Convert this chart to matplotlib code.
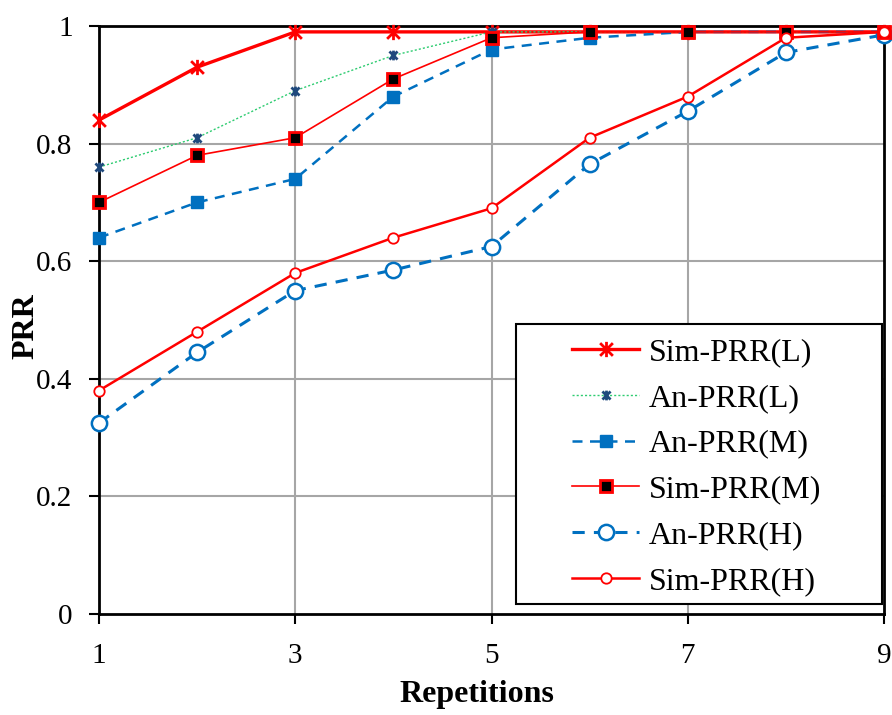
import numpy as np
from matplotlib import pyplot as plt
from matplotlib.path import Path
from matplotlib.patches import Rectangle

plt.rcParams['font.family'] = ['Liberation Serif', 'DejaVu Serif']

reps = [1, 2, 3, 4, 5, 6, 7, 8, 9]

sim_l = [0.84, 0.93, 0.99, 0.99, 0.99, 0.99, 0.99, 0.99, 0.99]
an_l = [0.76, 0.81, 0.89, 0.95, 0.99, 0.99, 0.99, 0.99, 0.99]
an_m = [0.64, 0.70, 0.74, 0.88, 0.96, 0.98, 0.99, 0.99, 0.99]
sim_m = [0.70, 0.78, 0.81, 0.91, 0.98, 0.99, 0.99, 0.99, 0.99]
an_h = [0.325, 0.445, 0.55, 0.585, 0.625, 0.765, 0.855, 0.955, 0.985]
sim_h = [0.38, 0.48, 0.58, 0.64, 0.69, 0.81, 0.88, 0.98, 0.99]

# excel style star: an x with a vertical bar
star = Path([(-1, -1), (1, 1), (-1, 1), (1, -1), (0, -1.2), (0, 1.2)],
            [Path.MOVETO, Path.LINETO, Path.MOVETO, Path.LINETO, Path.MOVETO, Path.LINETO])

W, H = 892, 715
fig = plt.figure(figsize=(W / 100, H / 100), dpi=100)
ax = fig.add_axes([99 / W, 1 - 614 / H, 785 / W, 588 / H])

# grid only where the original has it
for x in [3, 5, 7]:
    ax.axvline(x, color='#a6a6a6', lw=1.5, zorder=0)
for y in [0.2, 0.4, 0.6, 0.8]:
    ax.axhline(y, color='#a6a6a6', lw=1.5, zorder=0)

ax.plot(reps, sim_l, color='red', lw=2.4, marker=star, ms=11, mew=2,
        label='Sim-PRR(L)', clip_on=False, zorder=3)
ax.plot(reps, an_l, color='#2ecc71', lw=1, ls=(0, (1.5, 1.5)), marker=star,
        ms=7, mew=2, mec='#1f497d', mfc='#1f497d', label='An-PRR(L)', clip_on=False, zorder=3)
ax.plot(reps, an_m, color='#0070c0', lw=1.8, ls=(0, (4, 3)), marker='s', ms=9,
        mec='#0070c0', mfc='#0070c0', label='An-PRR(M)', clip_on=False, zorder=3)
ax.plot(reps, sim_m, color='red', lw=1.2, marker='s', ms=8.5, mfc='black', mec='red',
        mew=2, label='Sim-PRR(M)', clip_on=False, zorder=4)
ax.plot(reps, an_h, color='#0070c0', lw=2.2, ls=(0, (4, 3)), marker='o', ms=11,
        mfc='white', mec='#0070c0', mew=1.8, label='An-PRR(H)', clip_on=False, zorder=3)
ax.plot(reps, sim_h, color='red', lw=1.8, marker='o', ms=7.5, mfc='white', mec='red',
        mew=1.3, label='Sim-PRR(H)', clip_on=False, zorder=4)

ax.set_xlim(1, 9)
ax.set_ylim(0, 1)
ax.set_xticks([1, 3, 5, 7, 9])
ax.set_yticks([0, 0.2, 0.4, 0.6, 0.8, 1])
ax.set_yticklabels(['0', '0.2', '0.4', '0.6', '0.8', '1'])
ax.tick_params(direction='out', length=7, width=1.5, labelsize=21)
ax.tick_params(axis='x', pad=14)
ax.tick_params(axis='y', pad=12)
for s in ax.spines.values():
    s.set_linewidth(2)
    s.set_color('black')

ax.set_xlabel('Repetitions', fontsize=23, fontweight='bold')
ax.set_ylabel('PRR', fontsize=23, fontweight='bold')
ax.xaxis.set_label_coords(0.4815, -0.112)
ax.yaxis.set_label_coords(-0.074, 0.49)

# legend box is wider than its content, so draw the frame separately
box = Rectangle((516 / W, 1 - 604 / H), 366 / W, 280 / H, transform=fig.transFigure,
                facecolor='white', edgecolor='black', lw=1.5, clip_on=False, zorder=9)
ax.add_patch(box)
leg = ax.legend(loc='center left', bbox_to_anchor=(572 / W, 1 - 467 / H),
                bbox_transform=fig.transFigure, fontsize=23, frameon=False,
                handlelength=2.1, labelspacing=0.52, borderpad=0, handletextpad=0.3,
                borderaxespad=0)
leg.set_zorder(10)

fig.savefig('out.png', dpi=100)
